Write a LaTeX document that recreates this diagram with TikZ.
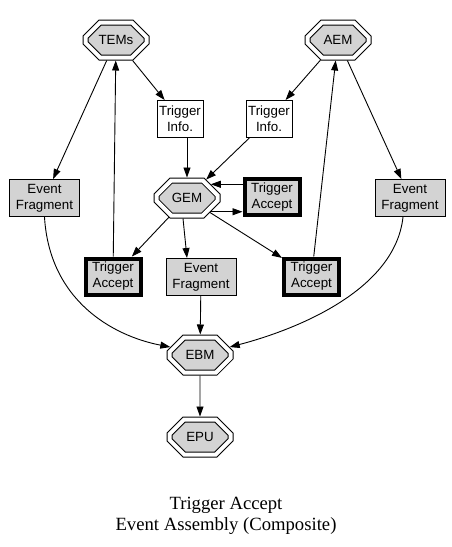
\documentclass[tikz,border=0pt]{standalone}
\usepackage{fontspec}
\usepackage{xcolor}
\usepackage{tikz}
\usetikzlibrary{arrows.meta, shapes.misc}
\setmainfont{Liberation Serif}
\newfontfamily\gvsans{Liberation Sans}
\definecolor{gvgray}{HTML}{D3D3D3}

\begin{document}
\begin{tikzpicture}[
    x=1pt, y=-1pt,
    every node/.style={font=\gvsans\fontsize{13.33}{16}\selectfont, align=center, inner sep=0pt},
    octmodule/.style={chamfered rectangle, chamfered rectangle xsep=15pt, chamfered rectangle ysep=10pt, draw, line width=1pt, double=white, double distance=4pt, fill=gvgray, minimum width=61pt, minimum height=35pt, outer sep=3pt},
    infobox/.style={draw, line width=1pt, fill=white, minimum width=46pt, minimum height=37pt, outer sep=0.5pt},
    fragbox/.style={draw, line width=1pt, fill=gvgray, minimum width=70pt, minimum height=37pt, outer sep=0.5pt},
    acceptbox/.style={draw, line width=4pt, fill=gvgray, minimum width=55pt, minimum height=36pt, outer sep=2pt},
    arrow/.style={line width=0.9pt, -{Triangle[length=10pt, width=7pt]}},
]
    \fill[white] (0,0) rectangle (452,547);
    \useasboundingbox (0,0) rectangle (452,547);

    % Modules
    \node[octmodule] (tems) at (116,40) {TEMs};
    \node[octmodule] (aem) at (338,40) {AEM};
    \node[octmodule] (gem) at (187,198) {GEM};
    \node[octmodule] (ebm) at (200,355) {EBM};
    \node[octmodule] (epu) at (200,437) {EPU};

    % Trigger info and event fragments
    \node[infobox] (tinfoL) at (180,119) {Trigger\\Info.};
    \node[infobox] (tinfoR) at (269,119) {Trigger\\Info.};
    \node[fragbox] (fragL) at (44.5,198) {Event\\Fragment};
    \node[fragbox] (fragR) at (410,198) {Event\\Fragment};
    \node[fragbox] (fragM) at (201,277) {Event\\Fragment};

    % Trigger accepts
    \node[acceptbox] (acceptG) at (272,197) {Trigger\\Accept};
    \node[acceptbox] (acceptL) at (113,276.5) {Trigger\\Accept};
    \node[acceptbox] (acceptR) at (311.5,276.5) {Trigger\\Accept};

    % Edges from the top modules
    \draw[arrow] (tems) -- (tinfoL);
    \draw[arrow] (tems) -- (fragL);
    \draw[arrow] (acceptL) -- (tems);
    \draw[arrow] (aem) -- (tinfoR);
    \draw[arrow] (aem) -- (fragR);
    \draw[arrow] (acceptR) -- (aem);

    % Edges round GEM
    \draw[arrow] (tinfoL.south -| gem.north) -- (gem.north);
    \draw[arrow] (tinfoR) -- (gem);
    \draw[arrow] (acceptG.west |- gem.30) -- (gem.30);
    \draw[arrow] (gem.330) -- (acceptG.west |- gem.330);
    \draw[arrow] (gem) -- (acceptL);
    \draw[arrow] ([xshift=-4pt]gem.south) -- ([xshift=-14pt]fragM.north);
    \draw[arrow] (gem) -- (acceptR);

    % Edges into EBM
    \draw[arrow] (fragL.south) .. controls +(5,84) and +(-57,-11) .. (ebm.165);
    \draw[arrow] (fragM) -- (ebm);
    \draw[arrow] ([xshift=-7pt]fragR.south) .. controls +(-8,74) and +(65,-17) .. (ebm.15);
    \draw[arrow] (ebm) -- (epu);

    % Caption
    \node[font=\rmfamily\fontsize{18.67}{21}\selectfont, anchor=north] (caption) at (226,497) {Trigger Accept\\Event Assembly (Composite)};
\end{tikzpicture}
\end{document}
